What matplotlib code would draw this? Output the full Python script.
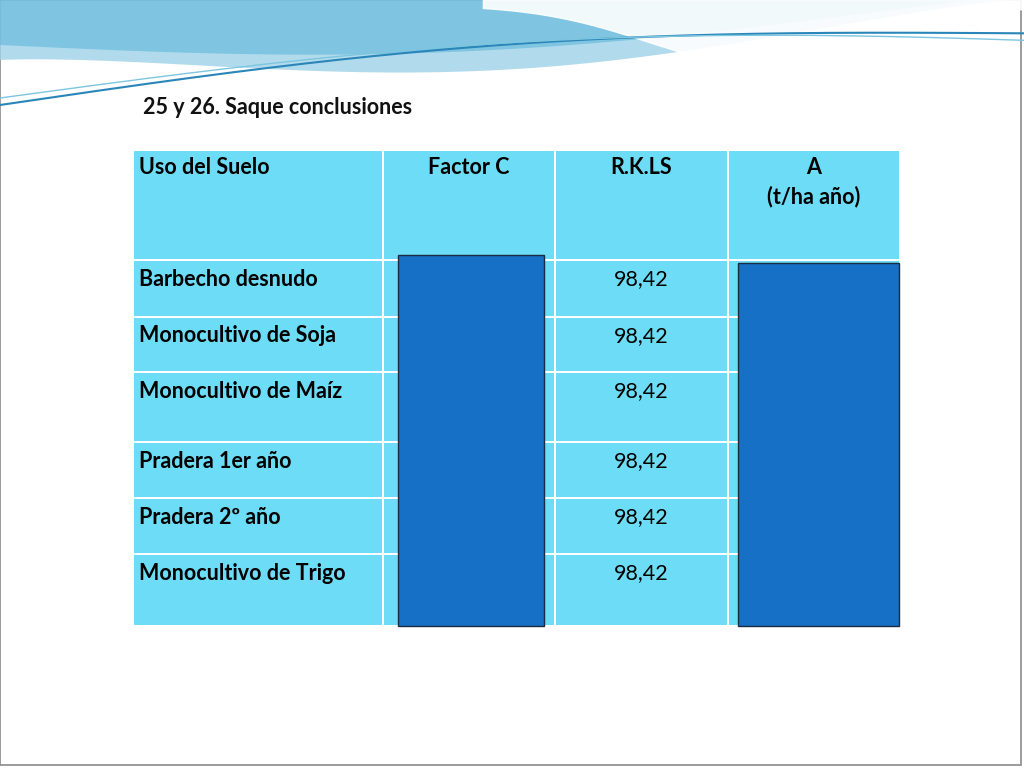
import numpy as np
import matplotlib.pyplot as plt
from matplotlib.patches import Rectangle, Polygon

# ---------------------------------------------------------
# DATA
# ---------------------------------------------------------
title = "25 y 26. Saque conclusiones"
headers = ["Uso del Suelo", "Factor C", "R.K.LS", "A\n(t/ha año)"]
usos = ["Barbecho desnudo", "Monocultivo de Soja", "Monocultivo de Maíz",
        "Pradera 1er año", "Pradera 2º año", "Monocultivo de Trigo"]
rkls = ["98,42", "98,42", "98,42", "98,42", "98,42", "98,42"]

# layout in slide pixels
col_edges = [133, 383, 555, 728, 900]
row_edges = [150, 260, 317, 372, 442, 498, 554, 626]
CELL = "#6DDCF6"
DARK = "#1570C6"
FONT = "Lato"
FS = 15.5

fig = plt.figure(figsize=(10.24, 7.68), dpi=100)
ax = fig.add_axes([0, 0, 1, 1])
ax.set_xlim(0, 1024)
ax.set_ylim(768, 0)
ax.axis("off")

# slide background and frame
ax.add_patch(Rectangle((0, 0), 1021, 765, facecolor="white", edgecolor="#8a8a8a", lw=1.2))

# decorative waves on top
x = np.linspace(0, 1024, 300)
top = 0 * x
band1 = 60 + 40 * np.sin(np.pi * x / 1024) ** 1.5 - 0.06 * x
ax.add_patch(Polygon(np.column_stack([np.r_[x, x[::-1]], np.r_[band1, top[::-1]]]),
                     facecolor="#9ed3e8", edgecolor="none", alpha=0.8))
band2 = 45 + 25 * np.sin(np.pi * x / 900) - 0.04 * x
ax.add_patch(Polygon(np.column_stack([np.r_[x, x[::-1]], np.r_[band2, top[::-1]]]),
                     facecolor="#5fb6d8", edgecolor="none", alpha=0.6))
white = 5 + 60 * np.exp(-((x - 760) / 160) ** 2)
ax.fill_between(x, 0, white, where=x > 480, color="white", alpha=0.9)
ax.plot(x, 105 - 0.07 * x - 25 * np.sin(np.pi * x / 1024), color="#2a86b8", lw=1.5)
ax.plot(x, 98 - 0.05 * x - 30 * np.sin(np.pi * x / 1100), color="#7cc6e0", lw=1)

ax.text(143, 107, title, fontsize=FS, fontweight="bold", family=FONT, va="center", color="#111")

# table cells
for r in range(len(row_edges) - 1):
    for c in range(len(col_edges) - 1):
        x0, x1 = col_edges[c] + 1, col_edges[c + 1] - 1
        y0, y1 = row_edges[r] + 1, row_edges[r + 1] - 1
        ax.add_patch(Rectangle((x0, y0), x1 - x0, y1 - y0, facecolor=CELL, edgecolor="none"))

for c, h in enumerate(headers):
    if c == 0:
        ax.text(col_edges[0] + 6, 167, h, fontsize=FS, fontweight="bold", family=FONT, va="center")
    else:
        xc = (col_edges[c] + col_edges[c + 1]) / 2
        ax.text(xc, 157, h, fontsize=FS, fontweight="bold", family=FONT,
                va="top", ha="center", linespacing=1.45)

for i, (u, v) in enumerate(zip(usos, rkls)):
    yt = row_edges[i + 1] + 19
    ax.text(col_edges[0] + 6, yt, u, fontsize=FS, fontweight="bold", family=FONT, va="center")
    ax.text((col_edges[2] + col_edges[3]) / 2, yt, v, fontsize=FS, family=FONT, va="center", ha="center")

# covering boxes
ax.add_patch(Rectangle((398, 255), 146, 371, facecolor=DARK, edgecolor="#1a2a40", lw=1))
ax.add_patch(Rectangle((738, 263), 161, 363, facecolor=DARK, edgecolor="#1a2a40", lw=1))

fig.savefig("out.png", dpi=100)
